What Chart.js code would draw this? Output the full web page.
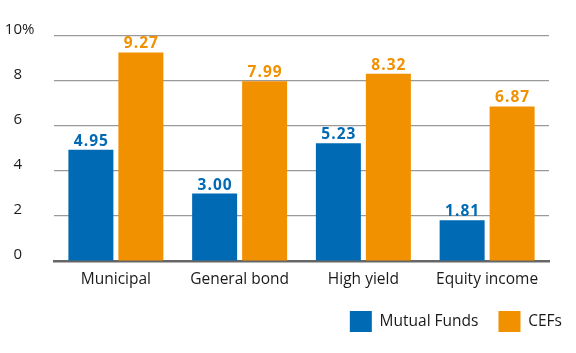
<!DOCTYPE html>
<html>
<head>
<meta charset="utf-8">
<script src="https://cdn.jsdelivr.net/npm/chart.js@4"></script>
<style>
  html, body { margin: 0; padding: 0; background: #fff; }
  #wrap { width: 576px; height: 353px; }
</style>
</head>
<body>
<div id="wrap"><canvas id="myChart"></canvas></div>
<script>
// data block
const categories = ['Municipal', 'General bond', 'High yield', 'Equity income'];
const mutualFunds = [4.95, 3.00, 5.23, 1.81];
const cefs = [9.27, 7.99, 8.32, 6.87];
const yTicks = [0, 2, 4, 6, 8, 10];

const BLUE = '#006ab4';
const ORANGE = '#f29100';
const TEXT = '#1a1a1a';
const FONT = "'Open Sans', sans-serif";
const LABEL_SHIFT = -6;

// draws the value above every bar
const valueLabels = {
    id: 'valueLabels',
    afterDatasetsDraw(chart) {
        const ctx = chart.ctx;
        ctx.save();
        ctx.font = 'bold 15.5px ' + FONT;
        ctx.textAlign = 'center';
        ctx.textBaseline = 'alphabetic';
        ctx.letterSpacing = '1px';
        chart.data.datasets.forEach((ds, i) => {
            chart.getDatasetMeta(i).data.forEach((bar, j) => {
                ctx.fillStyle = ds.backgroundColor;
                ctx.fillText(ds.data[j].toFixed(2), bar.x + 0.5, bar.y - 4);
            });
        });
        ctx.restore();
    }
};

// puts a "%" after the top tick label
const percentSign = {
    id: 'percentSign',
    afterDraw(chart) {
        const y = chart.scales.y;
        const ctx = chart.ctx;
        ctx.save();
        ctx.font = '15px ' + FONT;
        ctx.fillStyle = TEXT;
        ctx.textAlign = 'left';
        ctx.textBaseline = 'middle';
        ctx.fillText('%', 22, y.getPixelForValue(10) + LABEL_SHIFT);
        ctx.restore();
    }
};

// legend sits further right than the plot area
const legendShift = {
    id: 'legendShift',
    afterLayout(chart) {
        if (chart.legend) chart.legend.right += 14;
    }
};

const noPad = (s) => {
    s.paddingTop = 0;
    s.paddingBottom = 0;
    s.paddingLeft = 0;
    s.paddingRight = 0;
};

// config block
const config = {
    type: 'bar',
    data: {
        labels: categories,
        datasets: [
            { label: 'Mutual Funds', data: mutualFunds, backgroundColor: BLUE },
            { label: 'CEFs', data: cefs, backgroundColor: ORANGE }
        ]
    },
    options: {
        responsive: true,
        maintainAspectRatio: false,
        animation: false,
        layout: { padding: { top: 36, left: 0, right: 8, bottom: 11 } },
        categoryPercentage: 0.808,
        barPercentage: 0.9,
        scales: {
            x: {
                grid: { display: false },
                border: { display: true, color: '#666', width: 2.5 },
                ticks: { color: TEXT, font: { family: FONT, size: 15.5 }, padding: 1 },
                afterFit: (s) => { s.height = 30; noPad(s); }
            },
            y: {
                min: 0,
                max: 10,
                afterBuildTicks: (s) => { s.ticks = yTicks.map(v => ({ value: v })); },
                grid: { color: '#9a9a9a', lineWidth: 1.2, drawTicks: false },
                border: { display: false },
                ticks: { color: TEXT, font: { family: FONT, size: 15 }, padding: 32, labelOffset: LABEL_SHIFT },
                afterFit: (s) => { s.width = 54; noPad(s); }
            },
            y2: {
                position: 'right',
                display: true,
                grid: { display: false },
                border: { display: false },
                ticks: { display: false },
                afterFit: (s) => { s.width = 19; noPad(s); }
            }
        },
        plugins: {
            legend: {
                position: 'bottom',
                align: 'end',
                labels: {
                    boxWidth: 22,
                    boxHeight: 21,
                    padding: 20,
                    color: TEXT,
                    font: { family: FONT, size: 15.5 }
                }
            },
            tooltip: { enabled: false }
        }
    },
    plugins: [valueLabels, percentSign, legendShift]
};

// init render block
const myChart = new Chart(document.getElementById('myChart'), config);
</script>
</body>
</html>
